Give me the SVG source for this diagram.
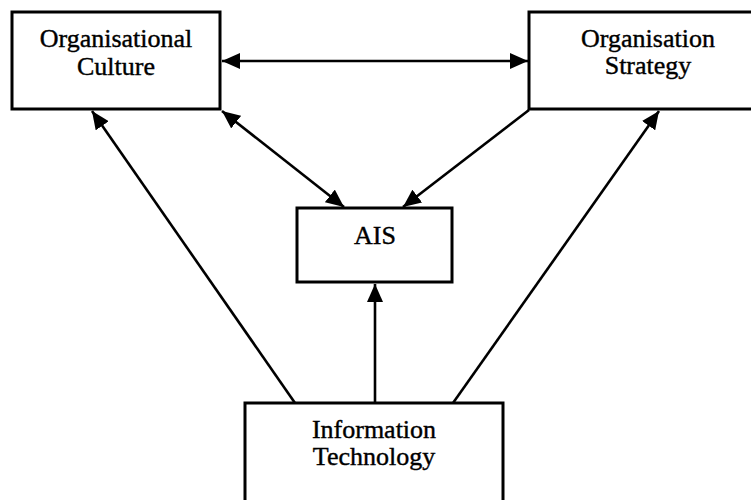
<svg xmlns="http://www.w3.org/2000/svg" width="751" height="500" viewBox="0 0 751 500">
<defs>
<style>
.box{fill:#fff;stroke:#000;stroke-width:3}
.lbl{font-family:"Liberation Serif","Times New Roman",serif;font-size:26px;fill:#000;stroke:#000;stroke-width:0.4;text-anchor:middle}
.con{stroke:#000;stroke-width:2.6;fill:none}
</style>
<marker id="ah" markerUnits="userSpaceOnUse" markerWidth="19" markerHeight="16" refX="18" refY="8" orient="auto-start-reverse">
<path d="M0,0 L18,8 L0,16 z" fill="#000"/>
</marker>
</defs>
<rect width="751" height="500" fill="#fff"/>
<g id="connectors">
<line class="con" x1="222" y1="61" x2="528" y2="61" marker-start="url(#ah)" marker-end="url(#ah)"/>
<line class="con" x1="222" y1="111" x2="344" y2="207" marker-start="url(#ah)" marker-end="url(#ah)"/>
<line class="con" x1="529" y1="110" x2="403" y2="207" marker-end="url(#ah)"/>
<line class="con" x1="295" y1="403" x2="92" y2="111" marker-end="url(#ah)"/>
<line class="con" x1="453" y1="403" x2="659" y2="111" marker-end="url(#ah)"/>
<line class="con" x1="375" y1="403" x2="375" y2="284" marker-end="url(#ah)"/>
</g>
<g id="culture">
<rect class="box" x="12" y="12" width="208" height="97"/>
<text class="lbl" x="116" y="47">Organisational</text>
<text class="lbl" x="116" y="75">Culture</text>
</g>
<g id="strategy">
<rect class="box" x="529" y="12" width="240" height="97"/>
<text class="lbl" x="648" y="47">Organisation</text>
<text class="lbl" x="648" y="74">Strategy</text>
</g>
<g id="ais">
<rect class="box" x="297" y="208" width="155" height="74"/>
<text class="lbl" x="375" y="244" font-size="27">AIS</text>
</g>
<g id="it">
<rect class="box" x="245" y="403" width="258" height="120"/>
<text class="lbl" x="374" y="438">Information</text>
<text class="lbl" x="374" y="465">Technology</text>
</g>
</svg>
